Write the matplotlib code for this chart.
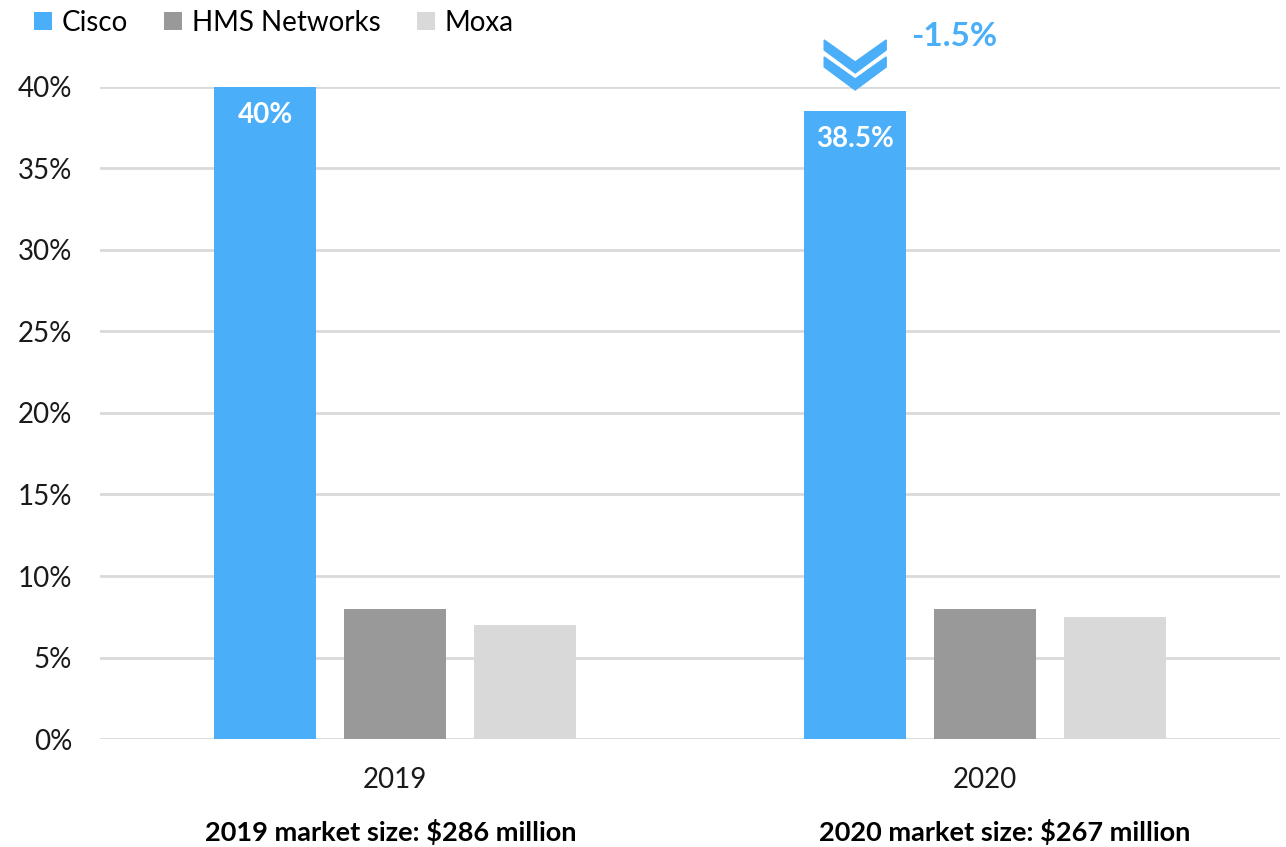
import numpy as np
import matplotlib
matplotlib.use('Agg')
import matplotlib.pyplot as plt
import matplotlib.transforms as mtransforms
from matplotlib.patches import Polygon

plt.rcParams['font.family'] = ['Lato', 'DejaVu Sans']

# ── data ─────────────────────────────────────────────────────────────────────
years     = ['2019', '2020']
companies = ['Cisco', 'HMS Networks', 'Moxa']
cisco     = [40.0, 38.5]
hms       = [8.0, 8.0]
moxa      = [7.0, 7.5]
cisco_lbl = ['40%', '38.5%']
change    = '-1.5%'
market    = ['2019 market size: $286 million', '2020 market size: $267 million']
market_x  = [0.304, 0.781]
colors    = ['#4aaef8', '#999999', '#d9d9d9']
# ─────────────────────────────────────────────────────────────────────────────

fig = plt.figure(figsize=(12.86, 8.47), dpi=100)
ax = fig.add_axes([0.0778, 0.1275, 0.9175, 0.7698])

x = np.arange(len(years))
w, step = 0.173, 0.22
series = [cisco, hms, moxa]
for i, (vals, name, c) in enumerate(zip(series, companies, colors)):
    ax.bar(x + (i - 1) * step, vals, width=w, color=c, label=name, zorder=2)

ax.set_xlim(-0.5, 1.5)
ax.set_ylim(0, 40)
ax.set_yticks(np.arange(0, 41, 5))
ax.set_yticklabels([f'{v}%' for v in range(0, 41, 5)])
ax.set_xticks(x)
ax.set_xticklabels(years)
ax.tick_params(length=0, labelsize=20, labelcolor='#1a1a1a')
ax.tick_params(axis='y', pad=20)
ax.tick_params(axis='x', pad=20)
ax.grid(axis='y', color='#d9d9d9', lw=2, zorder=0)
for s in ax.spines.values():
    s.set_visible(False)

# value labels inside Cisco bars
for xi, v, t in zip(x, cisco, cisco_lbl):
    ax.annotate(t, (xi - step, v), xytext=(0, -20), textcoords='offset points',
                ha='center', va='center', color='white', fontsize=20, fontweight='bold')

# double chevron above 2020 Cisco bar
bx = x[1] - step
anchor = fig.dpi_scale_trans + mtransforms.ScaledTranslation(bx, 40, ax.transData)
def chevron(top):
    pts = [(-31, top), (0, top - 22), (31, top), (31, top - 10), (0, top - 33), (-31, top - 10)]
    return [(px / 100, py / 100) for px, py in pts]
for top in (47, 30):
    ax.add_patch(Polygon(chevron(top), closed=True, color=colors[0],
                         transform=anchor, clip_on=False, zorder=3))
ax.annotate(change, (bx, 40), xytext=(71, 36), textcoords='offset points',
            ha='center', va='center', color=colors[0], fontsize=24,
            fontweight='bold', annotation_clip=False)

# market size footnotes
for xm, t in zip(market_x, market):
    fig.text(xm, 0.0177, t, ha='center', va='center', fontsize=19.5,
             fontweight='bold', color='black')

fig.legend(loc='upper left', bbox_to_anchor=(0.007, 1.018), ncol=3, frameon=False,
           fontsize=20, handlelength=0.65, handleheight=0.65, handletextpad=0.35,
           columnspacing=1.3)

fig.savefig('out.png', dpi=100)
